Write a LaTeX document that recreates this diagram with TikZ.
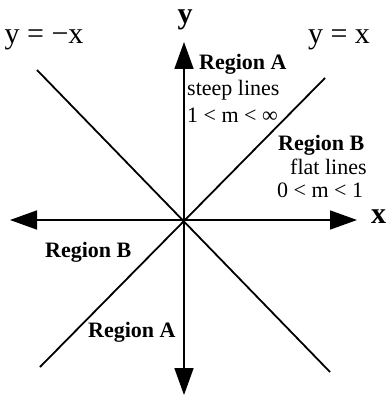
\documentclass[tikz,border=0pt]{standalone}
\usepackage{fontspec}
\setmainfont{Liberation Serif}
\usetikzlibrary{arrows.meta}
\begin{document}
\begin{tikzpicture}[x=1pt,y=-1pt,
  axis/.style={line width=1.7pt,-{Triangle[length=27pt,width=19pt]}},
  diag/.style={line width=1.8pt},
  lbl/.style={inner sep=0pt,font=\fontsize{22}{24}\selectfont},
  blbl/.style={inner sep=0pt,font=\fontsize{22}{24}\selectfont\bfseries},
  eqlbl/.style={inner sep=0pt,font=\fontsize{30}{32}\selectfont},
  axlbl/.style={inner sep=0pt,font=\fontsize{30}{32}\selectfont\bfseries}]
\useasboundingbox (0,0) rectangle (387,396);
\coordinate (O) at (184,220);
\coordinate (yt) at (184,42);
\coordinate (yb) at (184,395);
\coordinate (xl) at (10,220);
\coordinate (xr) at (357,220);
\coordinate (d1a) at (40,367);
\coordinate (d1b) at (325,78);
\coordinate (d2a) at (37,70);
\coordinate (d2b) at (330,372);
\draw[diag] (d1a) -- (d1b);
\draw[diag] (d2a) -- (d2b);
\draw[axis] (O) -- (yt);
\draw[axis] (O) -- (yb);
\draw[axis] (O) -- (xl);
\draw[axis] (O) -- (xr);
\node[axlbl] (ylab) at (185,20) {y};
\node[axlbl,anchor=west] (xlab) at (371,217) {x};
\node[eqlbl] (eqneg) at (44,40) {y = −x};
\node[eqlbl] (eqpos) at (339,40) {y = x};
\node[blbl,anchor=west] (ra1) at (199,64) {Region A};
\node[lbl,anchor=west] (steep) at (187,90) {steep lines};
\node[lbl,anchor=west] (m1) at (187,115) {1 < m < ∞};
\node[blbl,anchor=west] (rb1) at (278,145) {Region B};
\node[lbl,anchor=west] (flat) at (290,167) {flat lines};
\node[lbl,anchor=west] (m2) at (277,190) {0 < m < 1};
\node[blbl,anchor=west] (rb2) at (45,252) {Region B};
\node[blbl,anchor=west] (ra2) at (88,332) {Region A};
\end{tikzpicture}
\end{document}
